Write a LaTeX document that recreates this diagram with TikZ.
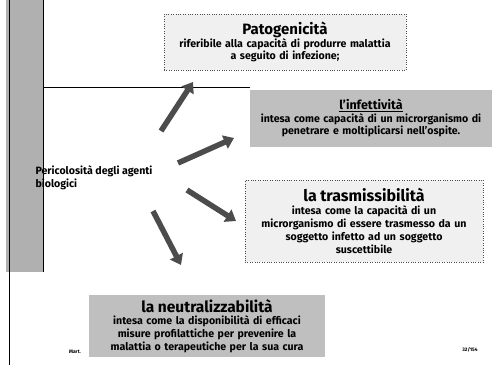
\documentclass[tikz,border=0pt]{standalone}
\usepackage{fontspec}
\setmainfont{Fira Sans}
\usepackage{tikz}
\usetikzlibrary{positioning}
\usetikzlibrary{arrows.meta}

\begin{document}
\begin{tikzpicture}[x=1pt, y=-1pt,
    litebox/.style = {draw=black!70, dotted, fill=gray!12, text width=#1, align=center, inner sep=2pt},
    darkbox/.style = {fill=gray!50, text width=#1, align=center, inner sep=2pt},
    body/.style = {font=\bfseries\fontsize{10.6}{12.8}\selectfont},
    fat/.style = {draw=black!70, line width=5.5pt, -{Triangle[length=10pt, width=14pt]}}]
    \useasboundingbox (0,0) rectangle (494,365);
    % left bar and rules
    \fill[gray!62] (6,0) rectangle (43,272);
    \draw[line width=1pt] (43,0) -- (43,272);
    \draw[line width=1pt] (9,0) -- (9,365);
    \draw (43,87) -- (250,87);

    \node[litebox=238pt, body, minimum height=56pt](pato) at (285,42)
        {{\fontsize{15}{17}\selectfont Patogenicità}\\riferibile alla capacità di produrre malattia\\a seguito di infezione;};
    \node[darkbox=238pt, body, minimum height=57pt](infe) at (371,118)
        {{\fontsize{12.5}{16}\selectfont\underline{l'infettività}}\\intesa come capacità di un microrganismo di\\penetrare e moltiplicarsi nell'ospite.};
    \node[litebox=234pt, body, minimum height=82pt](tras) at (364,221)
        {{\fontsize{16}{18}\selectfont la trasmissibilità}\\intesa come la capacità di un\\microrganismo di essere trasmesso da un\\soggetto infetto ad un soggetto\\suscettibile};
    \node[darkbox=232pt, body, minimum height=62pt](neut) at (207,326)
        {{\fontsize{15.5}{17}\selectfont la neutralizzabilità}\\intesa come la disponibilità di efficaci\\misure profilattiche per prevenire la\\malattia o terapeutiche per la sua cura};

    \node[body, align=left, anchor=west](peri) at (32,178)
        {Pericolosità degli agenti\\biologici};

    % arrows
    \coordinate (t1) at (161,131);
    \coordinate (h1) at (193,82);
    \coordinate (t2) at (178,163);
    \coordinate (h2) at (234,138);
    \coordinate (t3) at (187,190);
    \coordinate (h3) at (236,221);
    \coordinate (t4) at (153,211);
    \coordinate (h4) at (181,265);
    \foreach \i in {1,...,4}
        \draw[fat] (t\i) -- (h\i);

    \node[font=\bfseries\tiny](mart) at (75,352) {Mart.};
    \node[font=\bfseries\tiny](page) at (470,350) {32/154};
\end{tikzpicture}
\end{document}
